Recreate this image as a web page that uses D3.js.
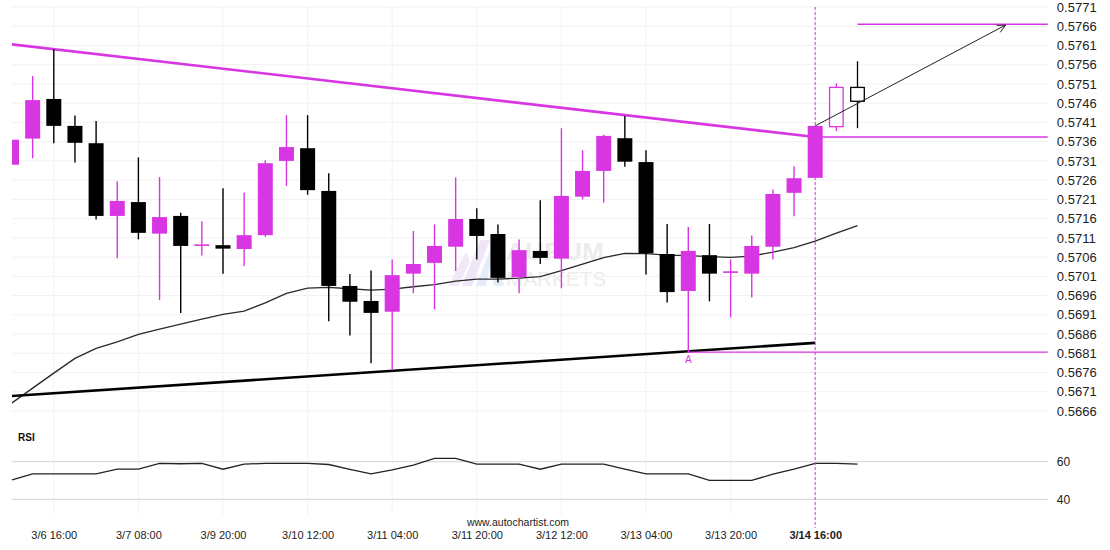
<!DOCTYPE html>
<html><head><meta charset="utf-8">
<script src="https://cdn.jsdelivr.net/npm/d3@7"></script>
<style>
body{margin:0;background:#fff;}
svg{display:block;font-family:Arial,"Liberation Sans",sans-serif;}
</style>
</head><body><svg id="c" width="1110" height="550"></svg>
<script>
// ---------- DATA ----------
const openP  = [0.57300,0.57368,0.57471,0.57401,0.57356,0.57167,0.57203,0.57121,0.57167,0.57090,0.57091,0.57081,0.57117,0.57310,0.57343,0.57232,0.56985,0.56946,0.56918,0.57017,0.57045,0.57087,0.57159,0.57120,0.57008,0.57076,0.57056,0.57217,0.57284,0.57369,0.57307,0.57068,0.56972,0.57065,0.57020,0.57017,0.57087,0.57227,0.57266,0.57399,0.57501];
const highP  = [0.57365,0.57531,0.57600,0.57428,0.57414,0.57257,0.57319,0.57268,0.57175,0.57153,0.57239,0.57228,0.57312,0.57429,0.57429,0.57278,0.57016,0.57025,0.57054,0.57128,0.57145,0.57267,0.57187,0.57145,0.57106,0.57208,0.57395,0.57338,0.57378,0.57427,0.57338,0.57146,0.57138,0.57146,0.57054,0.57116,0.57236,0.57296,0.57401,0.57512,0.57569];
const lowP   = [0.57300,0.57317,0.57356,0.57306,0.57158,0.57057,0.57106,0.56948,0.56915,0.57064,0.57017,0.57037,0.57113,0.57245,0.57222,0.56893,0.56856,0.56784,0.56766,0.56966,0.56924,0.57024,0.57054,0.56994,0.56966,0.57042,0.56979,0.57210,0.57202,0.57295,0.57015,0.56942,0.56813,0.56945,0.56903,0.56955,0.57054,0.57166,0.57266,0.57388,0.57395];
const closeP = [0.57365,0.57468,0.57401,0.57357,0.57167,0.57206,0.57123,0.57164,0.57089,0.57091,0.57082,0.57117,0.57304,0.57346,0.57234,0.56985,0.56944,0.56915,0.57013,0.57042,0.57089,0.57159,0.57115,0.57006,0.57078,0.57058,0.57219,0.57284,0.57375,0.57308,0.57070,0.56969,0.57076,0.57017,0.57021,0.57089,0.57224,0.57265,0.57401,0.57501,0.57465];
const hollowCandles = [39, 40];

const maValues = [0.566804,0.567194,0.567584,0.567966,0.568226,0.568398,0.56859,0.568728,0.568858,0.568988,0.56911,0.569196,0.569412,0.569656,0.569794,0.569812,0.569776,0.569742,0.569768,0.569828,0.569885,0.569976,0.570028,0.570028,0.570054,0.570093,0.570249,0.570418,0.570587,0.570696,0.570691,0.570652,0.570639,0.570613,0.570592,0.570626,0.57073,0.570847,0.571016,0.571224,0.571419];

const rsiValues = [50.3,53.5,53.5,53.5,53.5,56.0,56.0,59.1,58.9,59.1,56.0,58.7,59.1,59.1,59.1,58.5,55.9,53.5,55.7,58.2,61.8,61.8,58.7,58.7,58.7,56.0,58.7,58.7,58.7,56.0,53.5,53.5,53.5,50.1,50.1,50.1,53.4,56.0,59.1,59.1,58.7];

const xTickIdx    = [2,6,10,14,18,22,26,30,34,38];
const xTickLabels = ["3/6 16:00","3/7 08:00","3/9 20:00","3/10 12:00","3/11 04:00","3/11 20:00","3/12 12:00","3/13 04:00","3/13 20:00","3/14 16:00"];
const yTickValues = [0.5666,0.5671,0.5676,0.5681,0.5686,0.5691,0.5696,0.5701,0.5706,0.5711,0.5716,0.5721,0.5726,0.5731,0.5736,0.5741,0.5746,0.5751,0.5756,0.5761,0.5766,0.5771];
const rsiTicks = [40, 60];

const resistanceLine = [[0, 0.57613], [38, 0.57372]];
const supportLine    = [[0, 0.56699], [38, 0.56837]];
const levelLow    = [[32, 0.56813], [49, 0.56813]];
const levelBreak  = [[38, 0.57372], [49, 0.57372]];
const levelTarget = [[40, 0.57665], [49, 0.57665]];
const forecastArrow = [[38, 0.57401], [47, 0.57663]];
const breakoutIdx = 38;
const pointLabel = {idx: 32, value: 0.56813, text: "A"};

// ---------- SCALES ----------
const PINK = "#d936e3";
const svg = d3.select("#c");
const x = d3.scaleLinear().domain([0, 49]).range([11.5, 1047.85]);
const y = d3.scaleLinear().domain([0.5666, 0.5771]).range([411, 7]);
const ry = d3.scaleLinear().domain([40, 60]).range([499.3, 461.7]);
const L = 12, R = 1047.85;

svg.append("defs").append("clipPath").attr("id","mainClip")
  .append("rect").attr("x", L).attr("y", 0).attr("width", R - L).attr("height", 425);

// ---------- GRID ----------
svg.append("g").selectAll("line").data(yTickValues).join("line")
  .attr("x1", L).attr("x2", R).attr("y1", d => y(d)).attr("y2", d => y(d))
  .attr("stroke", "#f1f1f1").attr("stroke-width", 1);
svg.append("g").selectAll("line").data(xTickIdx).join("line")
  .attr("x1", d => x(d)).attr("x2", d => x(d)).attr("y1", 7).attr("y2", 515)
  .attr("stroke", "#f3f3f3").attr("stroke-width", 1);

// ---------- WATERMARK ----------
const wm = svg.append("g");
wm.append("path").attr("d", "M462,286 L480,240 L490,240 L472,286 Z").attr("fill", "#efe6f7");
wm.append("path").attr("d", "M476,286 L494,240 L504,286 L494,286 L490,266 L486,286 Z").attr("fill", "#e6ecf8");
wm.append("path").attr("d", "M448,286 L466,252 L470,262 L458,286 Z").attr("fill", "#f1e9f8");
wm.append("text").attr("x", 506).attr("y", 260).attr("font-size", 24).attr("font-weight", "bold").attr("fill", "#ececec")
  .attr("textLength", 98).attr("lengthAdjust", "spacingAndGlyphs").text("AURUM");
wm.append("text").attr("x", 506).attr("y", 286).attr("font-size", 21).attr("font-weight", "normal").attr("fill", "#ececec")
  .attr("textLength", 100).attr("lengthAdjust", "spacingAndGlyphs").text("MARKETS");

// ---------- MAIN PANEL ----------
const main = svg.append("g").attr("clip-path", "url(#mainClip)");
const idx = d3.range(openP.length);
const line2 = d3.line().x(d => x(d[0])).y(d => y(d[1]));

// MA
main.append("path").datum(maValues.map((v, i) => [i, v])).attr("d", line2)
  .attr("fill", "none").attr("stroke", "#2a2a2a").attr("stroke-width", 1.4);

// support / resistance
main.append("path").datum(supportLine).attr("d", line2).attr("stroke", "#000").attr("stroke-width", 2.6).attr("fill","none");
main.append("path").datum(resistanceLine).attr("d", line2).attr("stroke", PINK).attr("stroke-width", 2.6).attr("fill","none");

// candles
const cg = main.append("g");
idx.forEach(i => {
  const up = closeP[i] >= openP[i];
  const col = up ? PINK : "#000";
  const hollow = hollowCandles.includes(i);
  const cx = x(i);
  const top = y(Math.max(openP[i], closeP[i])), bot = y(Math.min(openP[i], closeP[i]));
  const h = Math.max(bot - top, 1.6);
  if (hollow) {
    cg.append("line").attr("x1", cx).attr("x2", cx).attr("y1", y(highP[i])).attr("y2", top).attr("stroke", col).attr("stroke-width", 1.3);
    cg.append("line").attr("x1", cx).attr("x2", cx).attr("y1", bot).attr("y2", y(lowP[i])).attr("stroke", col).attr("stroke-width", 1.3);
    cg.append("rect").attr("x", cx - 6.8).attr("y", top).attr("width", 13.6).attr("height", h)
      .attr("fill", "#fff").attr("stroke", col).attr("stroke-width", 1.3);
  } else {
    cg.append("line").attr("x1", cx).attr("x2", cx).attr("y1", y(highP[i])).attr("y2", y(lowP[i])).attr("stroke", col).attr("stroke-width", 1.4);
    cg.append("rect").attr("x", cx - 7.5).attr("y", top - (h > bot - top ? 0.8 : 0)).attr("width", 15).attr("height", h).attr("fill", col);
  }
});

// levels
[levelLow, levelBreak, levelTarget].forEach(lv => {
  main.append("path").datum(lv).attr("d", line2).attr("stroke", PINK).attr("stroke-width", 1.4).attr("fill", "none");
});

// arrow
const a0 = [x(forecastArrow[0][0]), y(forecastArrow[0][1])], a1 = [x(forecastArrow[1][0]), y(forecastArrow[1][1])];
main.append("path").datum(forecastArrow).attr("d", line2).attr("stroke", "#222").attr("stroke-width", 1).attr("fill", "none");
const ang = Math.atan2(a1[1] - a0[1], a1[0] - a0[0]);
const hl = 9;
main.append("path")
  .attr("d", `M${a1[0] - hl*Math.cos(ang - 0.45)},${a1[1] - hl*Math.sin(ang - 0.45)} L${a1[0]},${a1[1]} L${a1[0] - hl*Math.cos(ang + 0.45)},${a1[1] - hl*Math.sin(ang + 0.45)}`)
  .attr("stroke", "#222").attr("stroke-width", 1).attr("fill", "none");

// point label A
svg.append("text").attr("x", x(pointLabel.idx)).attr("y", y(pointLabel.value) + 11)
  .attr("text-anchor", "middle").attr("font-size", 10).attr("fill", PINK).text(pointLabel.text);

// y axis labels
const yAxis = d3.axisRight(y).tickValues(yTickValues).tickFormat(d3.format(".4f")).tickSize(0).tickPadding(9);
const ya = svg.append("g").attr("transform", `translate(${R},0)`).call(yAxis);
ya.select(".domain").remove();
ya.selectAll("text").attr("font-size", 13).attr("fill", "#222").attr("font-family", "Arial, 'Liberation Sans', sans-serif");

// ---------- RSI PANEL ----------
svg.append("g").selectAll("line").data(rsiTicks).join("line")
  .attr("x1", L).attr("x2", R).attr("y1", d => ry(d)).attr("y2", d => ry(d))
  .attr("stroke", "#dcdcdc").attr("stroke-width", 1.3);
const rAxis = d3.axisRight(ry).tickValues(rsiTicks).tickSize(0).tickPadding(9);
const ra = svg.append("g").attr("transform", `translate(${R},0)`).call(rAxis);
ra.select(".domain").remove();
ra.selectAll("text").attr("font-size", 12).attr("fill", "#222").attr("font-family", "Arial, 'Liberation Sans', sans-serif");
svg.append("text").attr("x", 18).attr("y", 441).attr("font-size", 10).attr("font-weight", "bold").attr("fill", "#111").text("RSI");
svg.append("path").datum(rsiValues.map((v, i) => [i, v]))
  .attr("d", d3.line().x(d => Math.max(x(d[0]), L)).y(d => ry(d[1])))
  .attr("fill", "none").attr("stroke", "#222").attr("stroke-width", 1.3);

// breakout dashed line
svg.append("line").attr("x1", x(breakoutIdx)).attr("x2", x(breakoutIdx)).attr("y1", 7).attr("y2", 528)
  .attr("stroke", PINK).attr("stroke-width", 1).attr("stroke-dasharray", "3,2");

// ---------- X AXIS ----------
const xAxis = d3.axisBottom(x).tickValues(xTickIdx).tickFormat((d, i) => xTickLabels[i]).tickSize(0).tickPadding(5);
const xa = svg.append("g").attr("transform", "translate(0,526)").call(xAxis);
xa.select(".domain").remove();
xa.selectAll("text").attr("font-size", 11).attr("fill", "#222").attr("font-family", "Arial, 'Liberation Sans', sans-serif")
  .attr("font-weight", (d, i) => i === xTickLabels.length - 1 ? "bold" : "normal");

svg.append("text").attr("x", 518).attr("y", 526).attr("text-anchor", "middle").attr("font-size", 10.5)
  .attr("fill", "#222").text("www.autochartist.com");
</script>
</body></html>
